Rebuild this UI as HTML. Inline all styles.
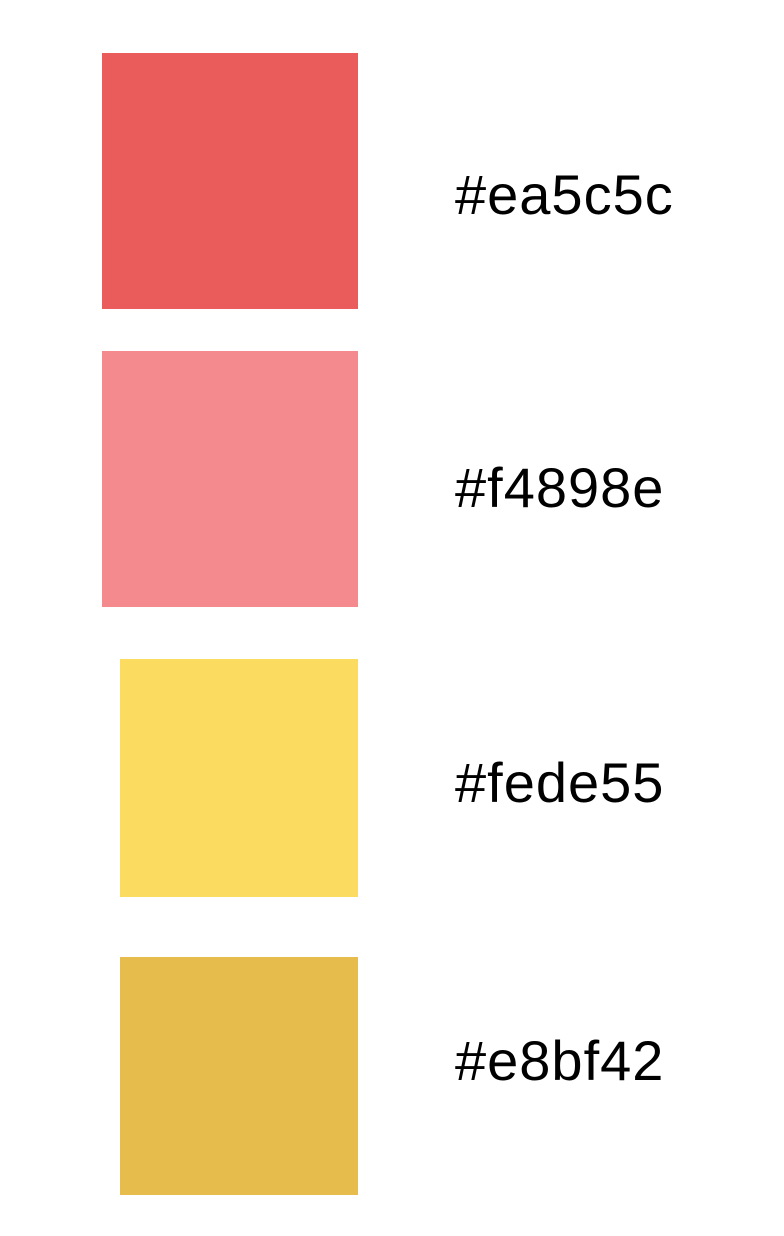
<!DOCTYPE html>
<html><head><meta charset="utf-8"><style>
html,body{margin:0;padding:0;background:#fff;width:784px;height:1236px;overflow:hidden}
.sw{position:absolute}
.lb{position:absolute;left:455px;font-family:"Liberation Sans",sans-serif;font-size:56px;line-height:1;color:#000;letter-spacing:1px}
</style></head><body>
<div class="sw" style="left:102px;top:53px;width:256px;height:256px;background:#ea5c5c"></div>
<div class="lb" style="top:167px">#ea5c5c</div>
<div class="sw" style="left:102px;top:351px;width:256px;height:256px;background:#f4898e"></div>
<div class="lb" style="top:460px">#f4898e</div>
<div class="sw" style="left:120px;top:659px;width:238px;height:238px;background:#fbdb60"></div>
<div class="lb" style="top:755px">#fede55</div>
<div class="sw" style="left:120px;top:957px;width:238px;height:238px;background:#e6bd4d"></div>
<div class="lb" style="top:1033px">#e8bf42</div>
</body></html>
